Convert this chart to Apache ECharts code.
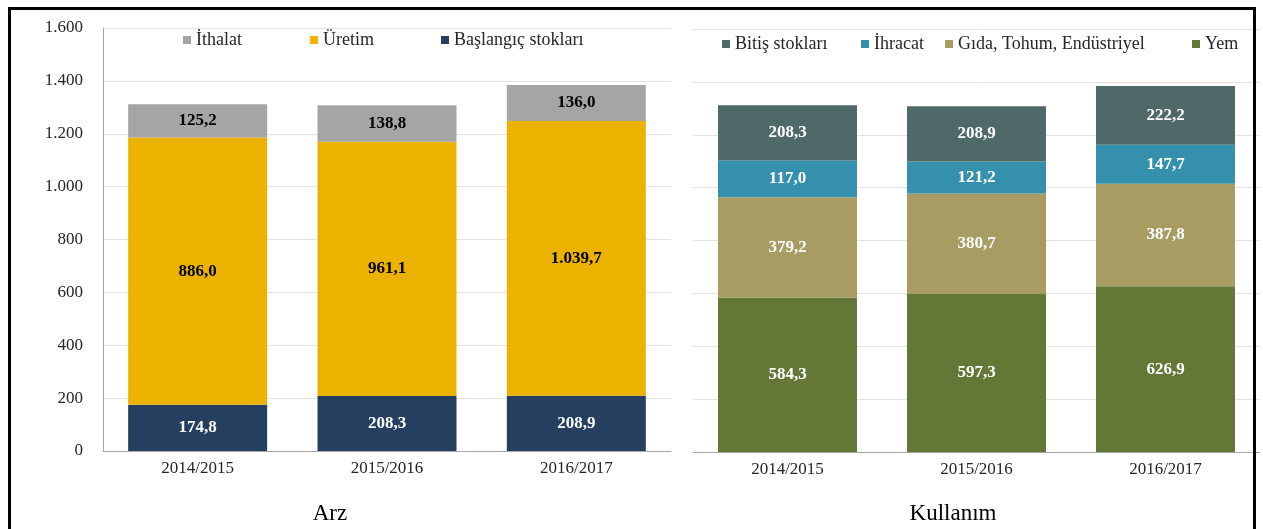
<!DOCTYPE html>
<html>
<head>
<meta charset="utf-8">
<script src="https://cdn.jsdelivr.net/npm/echarts@6/dist/echarts.min.js"></script>
<style>
  html, body { margin: 0; padding: 0; background: #fff; }
  #chart { width: 1263px; height: 529px; }
</style>
</head>
<body>
<div id="chart"></div>
<script>
// kategoriler
const yillar = ['2014/2015', '2015/2016', '2016/2017'];

// Arz (bar heights as drawn; labels as printed)
const baslangicStok = [174.8, 208.3, 208.9];
const uretim = [1011.2, 961.1, 1039.7];
const uretimEtiket = [886.0, 961.1, 1039.7];
const ithalat = [125.2, 138.8, 136.0];

// Kullanım
const yem = [584.3, 597.3, 626.9];
const gida = [379.2, 380.7, 387.8];
const ihracat = [139.4, 121.2, 147.7];
const ihracatEtiket = [117.0, 121.2, 147.7];
const bitisStok = [208.3, 208.9, 222.2];

// eksen
const yMin = 0, yMax = 1600, yAdim = 200;

const FONT = '"Liberation Serif", "Times New Roman", serif';

function trSayi(v, d) {
  let s = Number(v).toFixed(d);
  let parca = s.split('.');
  let tam = parca[0].replace(/\B(?=(\d{3})+(?!\d))/g, '.');
  return parca[1] ? tam + ',' + parca[1] : tam;
}

function etiket(renk, dizi) {
  return {
    show: true,
    position: 'inside',
    color: renk,
    fontFamily: FONT,
    fontWeight: 'bold',
    fontSize: 17,
    formatter: p => trSayi(dizi[p.dataIndex], 1)
  };
}

function bar(ad, veri, renk, grid, etiketRenk, etiketDizi) {
  return {
    name: ad,
    type: 'bar',
    stack: 'g' + grid,
    xAxisIndex: grid,
    yAxisIndex: grid,
    barWidth: 139,
    data: veri,
    itemStyle: { color: renk },
    label: etiket(etiketRenk, etiketDizi || veri),
    emphasis: { disabled: true }
  };
}

function lejant(ad, x, y) {
  return {
    data: [ad],
    left: x,
    top: y,
    icon: 'rect',
    itemWidth: 8,
    itemHeight: 8,
    padding: 0,
    selectedMode: false,
    textStyle: { fontFamily: FONT, fontSize: 18, color: '#262626' }
  };
}

const xEksen = i => ({
  type: 'category',
  gridIndex: i,
  data: yillar,
  axisTick: { show: false },
  axisLine: { lineStyle: { color: '#a6a6a6', width: 1 } },
  axisLabel: { fontFamily: FONT, fontSize: 17, color: '#262626', margin: 9 }
});

let myChart = echarts.init(document.getElementById('chart'));
let option = {
  animation: false,
  backgroundColor: '#fff',
  title: [
    { text: 'Arz', left: 325, top: 497, textAlign: 'center',
      textStyle: { fontFamily: FONT, fontSize: 23, fontWeight: 'normal', color: '#000' } },
    { text: 'Kullanım', left: 948, top: 497, textAlign: 'center',
      textStyle: { fontFamily: FONT, fontSize: 23, fontWeight: 'normal', color: '#000' } }
  ],
  legend: [
    lejant('İthalat', 183, 31),
    lejant('Üretim', 310, 31),
    lejant('Başlangıç stokları', 441, 31),
    lejant('Bitiş stokları', 722, 35),
    lejant('İhracat', 861, 35),
    lejant('Gıda, Tohum, Endüstriyel', 945, 35),
    lejant('Yem', 1192, 35)
  ],
  grid: [
    { left: 103, top: 28, width: 568, height: 423 },
    { left: 693, top: 29, right: 3, height: 423 }
  ],
  xAxis: [xEksen(0), xEksen(1)],
  yAxis: [
    {
      type: 'value', gridIndex: 0, min: yMin, max: yMax, interval: yAdim,
      axisLine: { show: true, lineStyle: { color: '#a6a6a6' } },
      axisTick: { show: false },
      splitLine: { lineStyle: { color: '#e3e3e3' } },
      axisLabel: { fontFamily: FONT, fontSize: 17, color: '#262626', margin: 20,
        formatter: v => trSayi(v, 0) }
    },
    {
      type: 'value', gridIndex: 1, min: yMin, max: yMax, interval: yAdim,
      axisLine: { show: false },
      axisTick: { show: false },
      splitLine: { lineStyle: { color: '#e3e3e3' } },
      axisLabel: { show: false }
    }
  ],
  series: [
    bar('Başlangıç stokları', baslangicStok, '#253f60', 0, '#fff'),
    bar('Üretim', uretim, '#ebb300', 0, '#000', uretimEtiket),
    bar('İthalat', ithalat, '#a5a5a5', 0, '#000'),
    bar('Yem', yem, '#637837', 1, '#fff'),
    bar('Gıda, Tohum, Endüstriyel', gida, '#a89c62', 1, '#fff'),
    bar('İhracat', ihracat, '#3490ad', 1, '#fff', ihracatEtiket),
    bar('Bitiş stokları', bitisStok, '#4f6969', 1, '#fff')
  ],
  graphic: [{
    type: 'rect',
    z: 100,
    shape: { x: 9.5, y: 8.5, width: 1245, height: 600 },
    style: { fill: 'none', stroke: '#000', lineWidth: 3 }
  }]
};
myChart.setOption(option);
</script>
</body>
</html>
